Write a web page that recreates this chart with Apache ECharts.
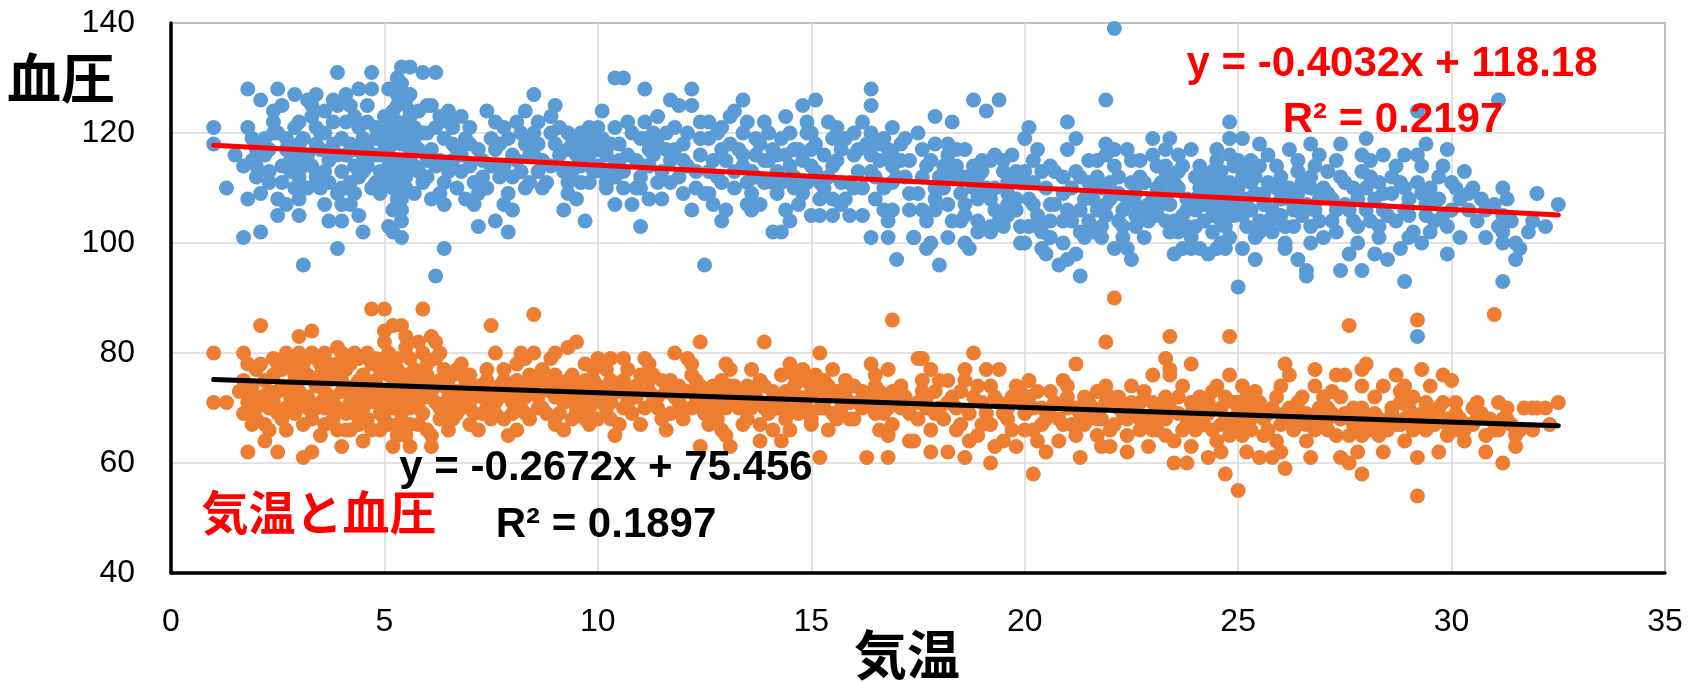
<!DOCTYPE html>
<html>
<head>
<meta charset="utf-8">
<script src="https://cdn.jsdelivr.net/npm/echarts@6/dist/echarts.min.js"></script>
<style>
html,body{margin:0;padding:0;background:#fff;}
#chart{width:1704px;height:682px;}
</style>
</head>
<body>
<div id="chart"></div>
<script>
// ---- data: [気温, 血圧] ----
const systolicA = [[1.0,121],[1.0,118],[1.3,110],[1.7,114],[1.7,101],[1.8,108],[1.8,128],[1.8,121],[1.9,119],[2.1,126],[2.1,102],[2.0,114],[2.0,112],[2.2,116],[2.3,113],[2.3,111],[2.4,122],[2.4,120],[2.5,108],[2.5,105],[2.5,128],[2.5,120],[2.7,117],[2.8,115],[2.9,127],[2.9,110],[3.0,108],[3.0,105],[3.0,118],[3.1,96],[3.0,122],[3.3,125],[3.3,123],[3.4,121],[3.4,127],[3.3,114],[3.4,112],[3.5,110],[3.6,107],[3.2,116],[3.7,115],[3.8,118],[3.8,122],[3.9,131],[3.9,125],[3.9,109],[4.0,107],[4.0,104],[3.9,99],[4.1,122],[4.2,107],[4.2,111],[4.3,114],[4.3,123],[4.4,128],[4.4,121],[4.5,102],[4.6,117],[4.7,131],[4.7,128],[4.8,111],[4.6,114],[5.0,123],[5.0,120],[5.1,103],[5.2,112],[5.2,110],[5.3,127],[5.3,125],[5.4,132],[5.6,132],[5.4,129],[5.5,122],[5.5,120],[5.6,117],[5.4,106],[5.4,104],[5.4,101],[5.3,115],[5.3,113],[5.6,123],[5.7,114],[5.9,111],[5.9,131],[6.0,125],[6.1,125],[6.1,108],[6.2,94],[6.1,117],[6.2,114],[6.2,131],[6.3,123],[6.4,119],[6.4,111],[6.4,99],[6.5,124],[6.5,122],[6.6,118],[6.7,117],[6.8,113],[6.9,108],[7.0,118],[7.1,111],[7.2,103],[7.3,112],[7.5,119],[7.6,122],[7.8,121],[7.6,104],[7.8,114],[7.9,109],[7.9,102],[8.0,106],[8.0,116],[8.1,122],[8.3,110],[8.3,118],[8.4,111],[8.5,127],[8.5,120],[8.6,113],[8.9,120],[8.9,114],[9.0,125],[9.0,118],[9.3,120],[9.3,117],[9.3,111],[9.3,109],[9.6,120],[9.6,114],[9.7,104],[9.8,121],[9.8,111],[9.9,119],[10.0,117],[10.0,114],[10.1,124],[10.2,111],[10.2,110],[10.4,107],[10.4,121],[10.4,130],[10.6,130],[10.4,114],[10.4,112],[10.7,116],[10.8,107],[11.0,119],[11.1,119],[11.0,112],[11.0,110],[11.0,103],[11.1,128],[11.2,117],[11.3,120],[11.4,123],[11.4,111],[11.6,120],[11.7,126],[11.9,125],[11.7,115],[11.8,117],[12.0,109],[12.1,114],[12.2,128],[12.2,125],[12.4,116],[12.5,109],[12.6,109],[12.5,96],[12.6,119],[12.8,120],[12.9,104],[13.0,106],[12.9,111],[13.0,115],[13.1,123],[13.2,124],[13.4,126],[13.4,120],[13.5,111],[13.6,109],[13.5,107],[13.6,106],[13.7,119],[13.7,116],[13.9,122],[14.0,115],[14.1,117],[14.1,111],[14.1,102],[14.3,102],[14.4,106],[14.5,104],[14.4,123],[14.5,114],[14.6,110],[14.7,117],[14.8,125],[15.1,126],[14.9,122],[14.9,120],[14.9,111],[15.0,105],[15.2,105],[15.2,108],[15.5,108],[15.3,116],[15.4,112],[15.5,119],[15.6,121],[15.5,105],[15.7,111],[15.9,111],[15.9,105],[16.2,105],[16.0,120],[16.4,120],[16.1,113],[16.4,128],[16.4,125],[16.4,116],[16.5,108],[16.4,101],[16.7,119],[16.8,117],[16.8,104],[16.8,101],[16.9,106],[16.9,121],[17.1,115],[17.0,97],[16.9,111],[17.3,106],[17.2,119],[17.4,101]];
const systolicB = [[5.0,118],[5.1,116],[5.1,121],[5.2,124],[5.2,118],[5.3,120],[5.3,122],[5.4,126],[5.4,118],[5.4,110],[5.4,108],[5.5,114],[5.5,112],[5.5,126],[5.6,124],[5.6,127],[5.6,115],[5.5,110],[5.3,108],[5.2,106],[5.6,119],[5.7,121],[5.7,118],[5.1,114],[4.9,116],[4.9,113],[4.8,119],[4.8,121],[5.8,117],[5.8,113],[2.2,119],[2.3,117],[2.6,114],[2.6,111],[2.7,119],[2.8,113],[2.9,116],[3.0,112],[3.1,114],[3.1,119],[3.2,110],[3.5,117],[3.5,120],[3.6,113],[3.7,111],[3.9,116],[4.0,113],[4.0,119],[4.1,110],[4.1,116],[4.2,118],[4.3,109],[4.4,112],[4.5,116],[4.5,119],[4.6,122],[4.7,110],[4.8,116],[2.0,117],[1.9,115],[2.6,125],[3.6,124],[4.2,125],[4.4,105],[6.0,112],[6.0,120],[6.3,115],[6.5,113],[6.6,121],[6.8,116],[6.9,119],[7.0,114],[7.2,117],[7.3,115],[7.4,110],[7.6,117],[7.7,112],[7.9,119],[8.1,115],[8.2,113],[8.4,116],[8.6,118],[8.7,115],[8.8,111],[6.4,107],[6.7,110],[7.1,107],[8.2,120],[8.6,122],[9.1,116],[9.2,113],[9.4,118],[9.5,116],[9.7,118],[9.9,113],[10.1,119],[10.2,116],[10.5,118],[10.6,113],[10.8,120],[10.9,115],[11.1,114],[11.3,116],[11.5,113],[11.6,117],[11.9,112],[12.0,118],[12.3,113],[12.4,119],[12.7,115],[12.8,112],[12.9,117],[11.2,108],[10.6,110],[9.5,108],[12.2,106],[13.2,113],[12.6,122],[13.3,117],[13.4,114],[13.6,113],[13.8,118],[13.9,111],[14.2,113],[14.3,119],[14.4,116],[14.6,112],[14.7,107],[14.8,115],[15.0,117],[15.1,113],[15.3,110],[15.6,115],[15.7,117],[15.8,108],[16.0,116],[16.2,110],[16.3,118],[16.5,112],[16.6,115],[16.7,110],[16.9,114],[17.1,118],[17.2,112],[17.3,109],[15.0,120],[14.2,109],[13.8,107]];
const systolicC = [[22.1,139],[21.9,126],[18.8,126],[19.4,126],[19.1,124],[17.9,123],[18.3,122],[17.5,120],[20.1,121],[20.0,119],[21.0,122],[21.2,119],[21.0,117],[17.9,118],[18.2,118],[18.6,117],[18.2,116],[19.0,115],[19.2,115],[19.5,115],[19.7,116],[17.7,114],[17.6,112],[18.0,112],[18.3,112],[18.6,112],[18.9,112],[19.6,111],[19.9,111],[20.2,111],[20.4,113],[20.6,114],[17.9,108],[17.6,106],[17.9,106],[18.6,107],[18.9,108],[19.2,108],[19.3,106],[19.6,107],[19.6,105],[18.5,104],[18.9,104],[19.2,103],[19.5,103],[19.9,103],[20.1,103],[20.3,103],[17.4,101],[17.8,100],[18.2,101],[18.6,100],[17.7,99],[18.0,96],[18.7,99],[19.2,102],[20.0,100],[20.2,107],[20.3,105],[20.4,99],[20.5,98],[20.8,96],[21.0,97],[21.2,98],[21.3,94],[20.6,104],[20.9,104],[20.9,112],[21.1,110],[21.4,108],[21.3,106],[21.3,102],[21.5,104],[21.6,102],[21.8,101],[22.1,99],[22.4,99],[22.5,97],[21.5,111],[21.7,112],[21.9,116],[22.1,114],[22.5,115],[22.4,117],[21.9,118],[21.9,107],[21.9,105],[22.2,109],[22.3,106],[22.4,108],[22.6,105],[22.8,106],[22.3,103],[22.6,103],[22.8,101],[23.0,119],[23.4,119],[23.0,116],[23.3,117],[23.3,114],[22.8,111],[23.1,110],[23.3,113],[23.0,108],[23.3,109],[23.3,104],[23.5,104],[23.6,102],[23.5,98],[23.7,99],[23.9,99],[24.1,99],[23.6,113],[23.7,114],[23.9,117],[24.0,112],[24.1,110],[23.8,108],[24.0,106],[24.2,107],[24.3,111],[24.4,113],[24.5,115],[24.5,117],[24.6,113],[24.7,110],[24.8,111],[24.9,114],[24.8,116],[24.4,105],[24.6,104],[24.8,106],[25.1,105],[24.4,102],[24.6,100],[24.8,101],[24.3,98],[24.5,99],[24.7,99],[24.8,122],[24.8,119],[25.1,119],[25.0,92],[25.1,99],[25.4,97],[25.2,113],[25.3,111],[25.4,109],[25.3,106],[25.5,104],[25.5,102],[25.5,118],[25.5,114],[25.7,111],[25.8,106],[26.0,108],[25.8,102],[26.1,100],[25.9,114],[26.2,117],[26.4,115],[26.2,110],[26.4,109],[26.3,106],[26.1,99],[26.4,97],[26.6,95],[26.6,94],[26.7,118],[26.7,112],[26.7,103],[26.7,100],[26.9,108],[27.1,113],[27.3,115],[27.4,118],[27.3,106],[27.3,102],[27.4,95],[27.6,98],[27.9,95],[27.7,104],[27.8,103],[27.9,116],[27.9,113],[28.0,119],[28.0,110],[28.2,108],[28.3,111],[28.4,116],[28.1,104],[28.3,103],[28.5,105],[28.2,98],[28.5,97],[28.9,93],[28.7,114],[28.8,111],[28.9,110],[28.8,99],[29.0,101],[29.1,102],[29.3,100],[29.2,124],[29.2,116],[29.3,114],[29.4,118],[29.3,109],[29.5,110],[29.6,108],[29.6,104],[29.9,103],[29.9,98],[29.9,117],[29.8,114],[30.0,111],[30.1,110],[30.3,113],[30.4,106],[30.5,110],[30.8,106],[30.8,101],[31.1,126],[31.1,103],[31.2,100],[31.5,100],[31.5,97],[31.2,93],[31.2,110],[31.3,108],[31.2,105],[31.2,102],[31.8,102],[31.9,104],[32.0,109],[32.5,107],[29.2,83]];
const systolicD = [[17.6,117],[17.8,115],[18.1,110],[18.4,114],[18.5,109],[18.8,110],[19.0,113],[19.3,110],[19.5,113],[19.8,108],[20.0,113],[20.2,115],[20.5,110],[20.7,107],[20.9,109],[21.1,104],[21.3,112],[21.6,108],[21.7,115],[22.0,111],[22.2,104],[22.6,109],[22.7,112],[22.9,107],[23.1,105],[23.2,111],[23.4,107],[23.6,110],[23.7,105],[23.9,101],[24.0,108],[24.2,104],[24.3,108],[24.6,108],[24.7,106],[24.9,108],[25.0,110],[25.2,108],[25.4,112],[25.6,107],[25.7,104],[25.9,110],[26.0,105],[26.3,103],[26.5,111],[26.6,107],[26.9,104],[27.0,110],[27.2,108],[27.5,111],[27.6,106],[27.8,108],[28.1,112],[28.4,106],[28.6,109],[28.9,106],[29.0,108],[29.4,105],[29.7,112],[30.2,108],[30.6,104],[19.8,106],[21.8,110],[23.8,103],[24.1,114],[25.0,115],[22.2,112],[18.3,104],[20.6,101],[26.8,114]];
const systolicE = [[1.5,116],[2.1,109],[2.4,124],[2.7,107],[2.9,121],[3.2,126],[3.4,118],[3.6,120],[3.7,104],[3.8,126],[4.0,110],[4.1,127],[4.3,117],[4.5,113],[4.6,125],[4.9,109],[5.0,111],[5.1,128],[5.2,102],[5.3,130],[5.7,109],[5.8,124],[5.9,120],[6.0,115],[6.2,121],[6.3,109],[6.6,115],[6.8,123],[7.0,121],[7.2,109],[7.4,124],[7.5,114],[7.7,118],[7.8,107],[8.0,112],[8.3,124],[8.5,116],[8.7,110],[8.9,123],[9.1,121],[9.2,106],[9.4,113],[9.6,111],[9.8,116],[10.0,121],[10.1,113],[10.3,118],[10.5,115],[10.7,122],[10.9,110],[11.1,122],[11.2,114],[11.4,118],[11.5,108],[11.7,111],[11.8,121],[12.0,115],[12.1,120],[12.3,110],[12.4,122],[12.6,113],[12.7,107],[12.9,121],[13.1,118],[13.2,110],[13.4,116],[13.5,122],[13.7,112],[13.9,115],[14.0,120],[14.2,116],[14.3,111],[14.5,120],[14.6,117],[14.8,109],[15.0,114],[15.1,118],[15.2,111],[15.4,122],[15.5,114],[15.7,107],[15.8,119],[16.0,110],[16.1,117],[16.2,122],[16.4,113],[16.6,118],[16.7,106],[16.9,116],[17.0,112],[17.3,115]];
const systolicF = [[17.5,109],[17.7,104],[17.9,110],[18.1,114],[18.2,107],[18.4,117],[18.6,105],[18.8,114],[18.9,102],[19.1,110],[19.3,116],[19.4,104],[19.6,109],[19.8,113],[19.9,100],[20.1,108],[20.3,117],[20.4,102],[20.6,107],[20.7,113],[20.9,100],[21.0,106],[21.2,113],[21.4,101],[21.5,115],[21.7,106],[21.8,103],[22.0,108],[22.1,117],[22.3,101],[22.5,111],[22.6,107],[22.7,115],[22.9,104],[23.1,114],[23.2,107],[23.4,102],[23.5,111],[23.6,116],[23.8,106],[24.0,103],[24.1,108],[24.2,112],[24.4,109],[24.5,107],[24.6,111],[24.7,103],[24.9,105],[25.0,107],[25.1,112],[25.2,103],[25.3,115],[25.4,101],[25.6,109],[25.7,116],[25.8,104],[26.0,112],[26.1,103],[26.2,108],[26.4,113],[26.5,105],[26.7,110],[26.8,106],[26.9,116],[27.0,101],[27.1,109],[27.2,104],[27.4,112],[27.5,107],[27.7,110],[27.8,100],[28.0,106],[28.1,115],[28.3,101],[28.4,109],[28.6,112],[28.7,104],[28.9,116],[29.0,105],[29.2,111],[29.4,107],[29.5,102],[29.7,108],[29.8,105],[30.0,106],[30.2,101],[30.4,109],[30.7,108],[31.0,107],[31.4,104],[31.6,99],[32.2,103]];

const diastolicA = [[1.0,80],[1.0,71],[1.3,71],[1.8,62],[2.1,85],[2.2,64],[1.7,80],[1.8,78],[1.6,73],[1.8,71],[1.7,69],[2.0,77],[2.2,75],[2.0,68],[2.2,67],[2.4,79],[2.5,78],[2.5,73],[2.4,71],[2.6,68],[2.7,80],[2.9,76],[2.8,72],[2.9,69],[3.0,83],[3.3,84],[3.0,80],[3.3,80],[3.4,79],[3.1,61],[3.3,62],[3.0,73],[3.2,70],[3.3,68],[3.5,76],[3.6,73],[3.6,70],[3.8,68],[3.9,81],[4.0,80],[3.9,78],[3.9,66],[4.0,63],[4.2,66],[4.3,80],[4.4,79],[4.6,80],[4.5,76],[4.3,74],[4.2,71],[4.5,70],[4.6,68],[4.5,64],[4.7,88],[5.0,88],[5.0,84],[5.0,82],[5.0,79],[4.9,77],[4.7,73],[4.8,71],[5.0,68],[5.2,63],[5.2,85],[5.4,85],[5.5,83],[5.5,81],[5.3,79],[5.6,79],[5.5,76],[5.2,74],[5.4,72],[5.6,70],[5.3,67],[5.5,65],[5.3,65],[5.6,63],[5.9,88],[5.9,80],[6.0,78],[5.9,75],[6.0,72],[6.1,73],[6.1,83],[6.2,82],[6.3,80],[6.2,79],[6.1,65],[6.1,63],[6.3,75],[6.5,72],[6.6,76],[6.5,70],[6.7,77],[6.7,69],[6.9,73],[7.0,70],[7.2,66],[7.4,77],[7.8,77],[7.5,85],[7.5,72],[7.4,70],[7.5,68],[7.9,73],[7.9,65],[8.0,69],[8.2,80],[8.3,79],[8.5,80],[8.4,76],[8.5,87],[8.3,72],[8.5,73],[8.4,68],[8.7,70],[8.9,79],[9.0,80],[9.0,76],[9.0,72],[9.1,69],[9.3,75],[9.3,81],[9.5,82],[9.4,73],[9.5,70],[9.5,69],[9.7,75],[9.8,73],[9.8,67],[9.9,77],[10.0,79],[10.2,77],[10.1,73],[10.3,71],[10.3,79],[10.6,79],[10.3,68],[10.4,65],[10.8,73],[10.8,69],[11.0,67],[11.1,79],[11.2,78],[11.3,76],[11.3,71],[11.6,73],[11.7,69],[11.8,80],[12.1,79],[12.4,82],[12.2,76],[12.0,68],[12.1,73],[12.4,63],[12.6,70],[12.6,67],[12.8,73],[12.9,75],[13.0,78],[13.1,77],[13.0,65],[13.1,63],[12.8,68],[13.3,70],[13.5,74],[13.6,73],[13.9,82],[13.8,64],[13.8,67],[14.0,69],[14.3,76],[14.4,73],[14.5,78],[14.3,64],[14.5,66],[14.7,72],[14.8,75],[15.0,68],[14.8,77],[15.2,80],[15.0,67],[15.2,61],[15.3,75],[15.5,77],[15.6,73],[15.7,70],[15.8,75],[15.9,68],[16.2,70],[16.3,61],[16.8,61],[16.8,65],[16.4,78],[16.5,76],[16.6,73],[16.7,69],[16.9,86],[16.8,77],[17.1,74],[16.9,67],[17.3,64],[17.5,79],[17.6,75],[17.5,71]];
const diastolicB = [[1.9,74],[2.1,72],[2.3,70],[2.4,76],[2.6,74],[2.7,70],[2.8,78],[3.0,75],[3.1,78],[3.2,72],[3.4,74],[3.5,71],[3.7,75],[3.7,78],[3.8,72],[4.0,75],[4.1,69],[4.1,77],[4.3,72],[4.4,67],[4.6,74],[4.7,78],[4.8,75],[4.9,69],[5.1,72],[5.1,76],[5.2,70],[5.3,77],[5.4,69],[5.6,74],[5.7,72],[5.7,77],[5.8,70],[5.8,67],[2.3,66],[3.5,65],[4.9,66],[5.8,82],[1.9,67],[2.5,62],[3.6,80],[6.2,71],[6.3,68],[6.4,74],[6.6,72],[6.8,70],[6.9,75],[7.1,72],[7.2,74],[7.3,69],[7.6,71],[7.7,74],[7.8,68],[8.0,72],[8.1,75],[8.2,70],[8.4,74],[8.6,72],[8.7,75],[8.8,69],[9.0,74],[9.2,71],[9.4,76],[9.6,72],[9.7,68],[9.9,71],[10.0,74],[10.2,70],[10.5,73],[10.6,75],[10.7,71],[10.9,74],[11.0,76],[6.5,66],[7.0,67],[8.1,66],[9.2,66],[10.5,67],[7.6,80],[9.7,78],[6.8,78],[11.2,73],[11.4,70],[11.5,75],[11.8,72],[11.9,74],[12.0,70],[12.3,72],[12.4,74],[12.5,71],[12.7,74],[12.9,70],[13.1,72],[13.2,74],[13.4,71],[13.5,68],[13.7,72],[13.9,74],[14.0,71],[14.2,70],[14.4,70],[14.6,74],[14.7,69],[14.9,72],[15.1,73],[15.3,70],[15.4,72],[15.6,68],[15.8,72],[16.0,74],[16.1,71],[16.3,72],[16.5,69],[16.7,71],[16.9,73],[17.1,70],[17.2,72],[11.6,66],[12.9,66],[14.1,66],[15.4,66],[16.6,66],[12.2,78],[13.6,77],[15.1,76]];
const diastolicC = [[22.1,90],[21.9,82],[23.4,83],[24.8,83],[27.6,85],[29.2,86],[31.0,87],[29.2,54],[25.0,55],[20.2,58],[24.7,58],[27.9,58],[26.1,59],[17.6,79],[17.8,77],[17.9,73],[17.7,70],[17.8,66],[17.4,64],[17.8,62],[18.2,62],[18.6,61],[18.2,75],[18.3,72],[18.5,67],[18.7,64],[18.6,77],[18.8,80],[18.6,75],[19.1,77],[19.4,77],[19.2,74],[19.1,69],[18.9,65],[19.3,63],[19.5,64],[19.8,63],[19.4,71],[19.6,68],[19.8,74],[20.1,75],[19.9,71],[20.2,66],[20.4,70],[20.3,64],[20.6,73],[20.9,75],[20.8,64],[21.2,65],[21.3,61],[21.2,78],[21.0,72],[21.4,72],[21.5,68],[21.7,65],[21.8,63],[21.7,73],[21.9,74],[22.2,70],[22.1,67],[22.5,74],[22.4,65],[22.4,62],[22.7,71],[22.8,68],[22.9,63],[23.0,76],[23.0,71],[23.3,79],[23.4,77],[23.4,76],[23.3,72],[23.3,68],[23.5,64],[23.5,60],[23.8,60],[23.9,78],[23.7,74],[23.9,71],[23.9,69],[24.2,67],[24.3,61],[24.6,62],[24.5,64],[24.5,74],[24.8,76],[24.9,71],[24.7,68],[25.1,74],[25.2,72],[25.1,65],[25.2,62],[25.3,68],[25.5,71],[25.5,61],[25.8,61],[25.7,66],[26.0,74],[26.2,76],[26.1,78],[26.4,71],[26.4,67],[26.6,64],[26.7,61],[26.8,77],[26.8,74],[27.0,72],[27.1,68],[27.3,65],[27.4,61],[27.6,60],[27.8,62],[27.3,76],[27.5,76],[27.4,72],[27.7,67],[27.9,65],[28.1,66],[28.3,65],[27.9,74],[27.9,77],[28.0,78],[28.4,74],[28.7,76],[28.8,73],[28.9,74],[28.8,71],[28.7,67],[28.9,64],[29.1,66],[29.2,61],[29.3,77],[29.5,74],[29.4,71],[29.3,69],[29.7,62],[29.6,67],[29.8,76],[30.0,75],[29.8,71],[30.1,71],[30.1,66],[29.9,65],[30.5,70],[30.6,68],[30.8,65],[30.8,62],[31.2,60],[31.1,71],[31.3,70],[31.2,68],[31.5,65],[31.5,63],[31.9,70],[32.0,70],[31.9,66],[32.5,71]];
const diastolicD = [[17.7,72],[18.0,70],[18.1,68],[18.4,70],[18.8,72],[19.0,71],[19.2,67],[19.6,70],[19.7,72],[20.0,69],[20.1,72],[20.4,67],[20.6,70],[20.8,68],[21.0,70],[21.1,67],[21.3,69],[21.6,70],[21.8,68],[22.0,72],[22.3,69],[22.6,70],[22.7,66],[23.0,68],[23.1,66],[23.2,70],[23.6,69],[23.7,66],[24.0,70],[24.1,72],[24.3,69],[24.4,66],[24.6,70],[24.9,67],[25.0,69],[25.1,70],[25.3,66],[25.4,69],[25.6,68],[25.8,70],[25.9,64],[26.1,69],[26.3,66],[26.5,69],[26.6,67],[26.9,70],[27.1,66],[27.2,69],[27.5,69],[27.7,70],[28.0,68],[28.2,69],[28.4,67],[28.6,69],[28.9,68],[29.0,70],[29.3,67],[29.6,69],[29.9,68],[30.2,68],[30.4,67],[30.7,69],[31.0,66],[31.4,67],[20.5,62],[22.0,63],[23.9,63],[26.0,62],[28.4,62],[19.2,60],[30.3,64]];
const diastolicE = [[1.7,75],[1.9,72],[2.0,70],[2.1,78],[2.3,73],[2.5,69],[2.6,77],[2.7,66],[2.8,74],[3.0,71],[3.1,67],[3.2,76],[3.4,70],[3.5,78],[3.6,67],[3.7,72],[3.8,76],[3.9,70],[4.0,73],[4.1,66],[4.2,78],[4.3,69],[4.4,75],[4.5,73],[4.6,71],[4.7,66],[4.8,79],[4.9,73],[5.0,71],[5.1,67],[5.1,80],[5.2,77],[5.3,71],[5.4,75],[5.4,67],[5.5,73],[5.6,67],[5.7,75],[5.8,73],[5.9,69],[6.0,76],[6.0,66],[6.2,74],[6.3,70],[6.4,77],[6.5,74],[6.6,68],[6.7,73],[6.9,71],[7.0,76],[7.1,69],[7.3,72],[7.4,75],[7.6,69],[7.7,72],[7.8,75],[8.0,71],[8.1,78],[8.2,73],[8.3,69],[8.5,75],[8.6,70],[8.7,77],[8.9,73],[9.0,67],[9.1,74],[9.3,72],[9.4,68],[9.6,74],[9.8,70],[9.9,75],[10.0,68],[10.1,71],[10.3,75],[10.4,73],[10.6,70],[10.7,77],[10.9,72],[11.1,70],[11.2,75],[11.4,72],[11.5,68],[11.7,75],[11.9,71],[12.0,73],[12.2,70],[12.3,75],[12.5,69],[12.6,73],[12.8,71],[13.0,70],[13.1,74],[13.3,73],[13.4,67],[13.6,70],[13.8,75],[13.9,70],[14.1,73],[14.3,71],[14.4,68],[14.6,76],[14.7,71],[14.9,70],[15.0,74],[15.2,70],[15.4,74],[15.5,69],[15.7,73],[15.9,71],[16.0,68],[16.2,73],[16.4,71],[16.5,74],[16.7,72],[16.8,70],[17.0,72],[17.3,69]];
const diastolicF = [[17.5,68],[17.6,73],[17.9,69],[18.0,75],[18.2,71],[18.4,66],[18.5,73],[18.7,69],[18.9,74],[19.0,67],[19.3,72],[19.5,69],[19.7,66],[19.9,73],[20.0,66],[20.2,70],[20.3,73],[20.5,68],[20.7,71],[20.9,67],[21.0,74],[21.2,70],[21.4,67],[21.5,71],[21.7,68],[21.9,71],[22.0,66],[22.2,72],[22.4,68],[22.5,71],[22.7,68],[22.8,73],[23.0,66],[23.1,70],[23.3,65],[23.4,70],[23.6,72],[23.8,67],[24.0,66],[24.1,68],[24.3,71],[24.4,73],[24.6,67],[24.7,72],[24.8,65],[25.0,71],[25.1,67],[25.3,70],[25.4,73],[25.6,65],[25.7,69],[25.9,72],[26.0,67],[26.2,70],[26.3,68],[26.5,72],[26.6,69],[26.8,66],[26.9,68],[27.1,70],[27.2,73],[27.4,68],[27.6,65],[27.7,68],[27.9,70],[28.0,66],[28.2,72],[28.3,68],[28.5,66],[28.6,70],[28.8,67],[29.0,68],[29.1,72],[29.4,66],[29.5,68],[29.7,70],[29.9,67],[30.1,69],[30.3,66],[30.5,67],[30.6,71],[30.9,68],[31.1,66],[31.3,68],[31.6,66],[31.7,70],[32.2,70],[32.3,67]];

// trendlines (from the equations shown on the chart)
const trendSystolic = {slope: -0.4032, intercept: 118.18, from: 1.0, to: 32.5};
const trendDiastolic = {slope: -0.2672, intercept: 75.456, from: 1.0, to: 32.5};

// axis ticks
const xTicks = {min: 0, max: 35, interval: 5};
const yTicks = {min: 40, max: 140, interval: 20};

const systolic = systolicA.concat(systolicB, systolicC, systolicD, systolicE, systolicF);
const diastolic = diastolicA.concat(diastolicB, diastolicC, diastolicD, diastolicE, diastolicF);
function trendData(t){ return [[t.from, t.slope*t.from + t.intercept],[t.to, t.slope*t.to + t.intercept]]; }

const chart = echarts.init(document.getElementById('chart'), null, {renderer:'canvas'});
const labelFont = 'Liberation Sans';
const cjk = '"Noto Sans CJK JP", "Noto Sans CJK SC", sans-serif';
chart.setOption({
  animation: false,
  backgroundColor: '#ffffff',
  grid: {left: 171, top: 23, right: 39, bottom: 109, show: true, borderColor: '#404040', borderWidth: 1.5, backgroundColor: 'transparent'},
  xAxis: {
    type: 'value', min: xTicks.min, max: xTicks.max, interval: xTicks.interval,
    axisLine: {show: true, onZero: false, lineStyle: {color: '#000', width: 3.5}},
    axisTick: {show: false},
    splitLine: {show: true, lineStyle: {color: '#d9d9d9', width: 1.5}},
    axisLabel: {fontSize: 32, color: '#000', fontFamily: labelFont, margin: 33}
  },
  yAxis: {
    type: 'value', min: yTicks.min, max: yTicks.max, interval: yTicks.interval,
    axisLine: {show: true, onZero: false, lineStyle: {color: '#000', width: 3.5}},
    axisTick: {show: false},
    splitLine: {show: true, lineStyle: {color: '#d9d9d9', width: 1.5}},
    axisLabel: {fontSize: 32, color: '#000', fontFamily: labelFont, margin: 36}
  },
  series: [
    {type: 'scatter', data: systolic, symbol: 'circle', symbolSize: 15, itemStyle: {color: '#5B9BD5', opacity: 1}, z: 2, silent: true},
    {type: 'scatter', data: diastolic, symbol: 'circle', symbolSize: 15, itemStyle: {color: '#ED7D31', opacity: 1}, z: 3, silent: true},
    {type: 'line', data: trendData(trendSystolic), symbol: 'none', lineStyle: {color: '#FF0000', width: 5, cap: 'round'}, z: 5, silent: true},
    {type: 'line', data: trendData(trendDiastolic), symbol: 'none', lineStyle: {color: '#000000', width: 5, cap: 'round'}, z: 5, silent: true}
  ],
  graphic: [
    {type: 'text', x: 61, y: 78, z: 10, style: {text: '血圧', font: 'bold 54px ' + cjk, fill: '#000', textAlign: 'center', textVerticalAlign: 'middle'}},
    {type: 'text', x: 907, y: 655, z: 10, style: {text: '気温', font: 'bold 53px ' + cjk, fill: '#000', textAlign: 'center', textVerticalAlign: 'middle'}},
    {type: 'text', x: 319, y: 512, z: 10, style: {text: '気温と血圧', font: 'bold 47px ' + cjk, fill: '#FF0000', textAlign: 'center', textVerticalAlign: 'middle'}},
    {type: 'text', x: 1392, y: 64, z: 10, style: {text: 'y = -0.4032x + 118.18', font: 'bold 42px "Liberation Sans"', fill: '#FF0000', textAlign: 'center', textVerticalAlign: 'middle'}},
    {type: 'text', x: 1393, y: 120, z: 10, style: {text: 'R² = 0.2197', font: 'bold 42px "Liberation Sans"', fill: '#FF0000', textAlign: 'center', textVerticalAlign: 'middle'}},
    {type: 'text', x: 606, y: 468, z: 10, style: {text: 'y = -0.2672x + 75.456', font: 'bold 42px "Liberation Sans"', fill: '#000', textAlign: 'center', textVerticalAlign: 'middle'}},
    {type: 'text', x: 606, y: 525, z: 10, style: {text: 'R² = 0.1897', font: 'bold 42px "Liberation Sans"', fill: '#000', textAlign: 'center', textVerticalAlign: 'middle'}}
  ]
});
</script>
</body>
</html>
